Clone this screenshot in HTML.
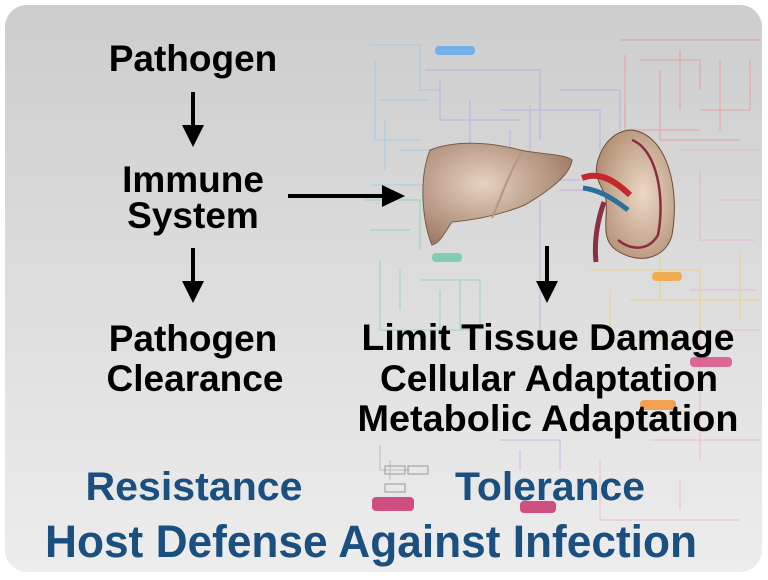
<!DOCTYPE html>
<html><head><meta charset="utf-8"><style>
html,body{margin:0;padding:0;background:#fff;width:768px;height:580px;overflow:hidden}
svg{display:block}
text{font-family:"Liberation Sans",Arial,sans-serif;font-weight:bold}
</style></head><body>
<svg width="768" height="580" viewBox="0 0 768 580" xmlns="http://www.w3.org/2000/svg">
<defs>
<linearGradient id="bg" x1="0" y1="0" x2="0" y2="1">
<stop offset="0" stop-color="#cdcdcd"/><stop offset="1" stop-color="#ededed"/>
</linearGradient>
<radialGradient id="liv" cx="0.4" cy="0.4" r="0.7">
<stop offset="0" stop-color="#e6d2c0"/><stop offset="1" stop-color="#9a7660"/>
</radialGradient>
<radialGradient id="kid" cx="0.6" cy="0.5" r="0.6">
<stop offset="0" stop-color="#ecd8c6"/><stop offset="1" stop-color="#b49276"/>
</radialGradient>
</defs>
<rect x="5" y="5" width="757" height="567" rx="22" fill="url(#bg)"/>
<g fill="none" stroke-width="1.3" opacity="0.55">
<g stroke="#8fc6f0">
<path d="M370 45 H420 V90 H440 M375 60 V140 H420 M380 100 H430 M385 120 V170 M400 150 H440 V175 M372 185 H430"/>
</g>
<g stroke="#a8a2ee">
<path d="M425 70 H540 V140 M440 80 V120 H520 M470 100 V160 H560 M500 110 H600 V150 M510 130 V200 M530 105 V180 H580 M560 90 H620 V130"/>
</g>
<g stroke="#f08a8a">
<path d="M620 40 H760 M625 55 V130 H700 M640 60 H700 V90 M660 70 V140 H740 M680 50 V110 M700 110 H750 V60 M720 60 V130"/>
</g>
<g stroke="#f0a8c8">
<path d="M680 150 H760 M700 170 V240 H755 M720 200 H760 M690 290 H755 M700 310 V460 M720 330 H760 M650 440 H760 M600 460 V520 H740 M680 480 V510"/>
</g>
<g stroke="#78d2b0">
<path d="M365 200 H420 V250 M370 230 H410 M380 260 V330 H470 M400 270 V310 M420 280 H480 V330 M440 290 V340 M460 280 V330"/>
</g>
<g stroke="#f5cc66">
<path d="M590 270 H700 V330 M610 290 V340 H690 M630 300 H760 M660 250 V300 M740 250 V320"/>
</g>
<g stroke="#c09be0">
<path d="M540 200 V330 M560 190 H600 M500 440 H560 V470 M520 450 V470"/>
</g>
<g stroke="#aaa">
<path d="M380 445 V470 H410 M390 460 V480"/>
</g>
</g>
<rect x="435" y="46" width="40" height="9" rx="4" fill="#5aa9ec" opacity="0.8"/>
<rect x="432" y="253" width="30" height="9" rx="4" fill="#6bc8a8" opacity="0.8"/>
<rect x="652" y="272" width="30" height="9" rx="4" fill="#f5a030" opacity="0.8"/>
<rect x="690" y="357" width="42" height="10" rx="4" fill="#d94a80" opacity="0.8"/>
<rect x="640" y="400" width="36" height="10" rx="4" fill="#f59030" opacity="0.8"/>
<rect x="372" y="497" width="42" height="14" rx="4" fill="#c8336c" opacity="0.85"/>
<rect x="520" y="501" width="36" height="12" rx="4" fill="#c8336c" opacity="0.85"/>
<rect x="385" y="466" width="20" height="8" fill="none" stroke="#999"/>
<rect x="408" y="466" width="20" height="8" fill="none" stroke="#999"/>
<rect x="385" y="484" width="20" height="8" fill="none" stroke="#999"/>
<!-- liver -->
<path d="M430 150 C455 140 490 142 520 150 C545 155 565 154 572 160 C570 175 550 190 525 205 C500 215 475 220 452 222 C445 232 440 243 432 245 C423 225 418 180 430 150 Z" fill="url(#liv)" stroke="#7a5a48" stroke-width="1"/>
<path d="M522 152 C508 175 500 200 492 218" stroke="#b5967e" fill="none" stroke-width="2"/>
<!-- kidney -->
<path d="M632 130 C668 135 680 190 672 235 C666 258 640 266 616 250 C600 238 608 220 606 200 C604 186 592 180 598 160 C604 140 618 130 632 130 Z" fill="url(#kid)" stroke="#6d4a3a" stroke-width="1"/>
<path d="M632 140 C658 150 665 200 658 235 C648 252 630 250 618 240" fill="none" stroke="#8a2d40" stroke-width="2.5"/>
<path d="M582 178 C598 172 612 178 630 195" stroke="#c2282c" stroke-width="6" fill="none"/>
<path d="M583 188 C598 190 610 196 628 210" stroke="#2d6f9c" stroke-width="5" fill="none"/>
<path d="M604 202 C597 222 594 242 596 262" stroke="#8a3045" stroke-width="5" fill="none"/>
<g fill="#000" font-size="37" text-anchor="middle">
<text x="193" y="71">Pathogen</text>
<text x="193" y="192">Immune</text>
<text x="193" y="228">System</text>
<text x="193" y="351">Pathogen</text>
<text x="195" y="391">Clearance</text>
</g>
<g fill="#000" font-size="37" text-anchor="middle" textLength="">
<text x="548" y="350" textLength="373" lengthAdjust="spacingAndGlyphs">Limit Tissue Damage</text>
<text x="549" y="391" textLength="338" lengthAdjust="spacingAndGlyphs">Cellular Adaptation</text>
<text x="548" y="431" textLength="381" lengthAdjust="spacingAndGlyphs">Metabolic Adaptation</text>
</g>
<g stroke="#000" stroke-width="4">
<line x1="193" y1="92" x2="193" y2="128"/>
<line x1="193" y1="248" x2="193" y2="284"/>
<line x1="547" y1="246" x2="547" y2="284"/>
<line x1="288" y1="196" x2="384" y2="196"/>
</g>
<g fill="#000">
<polygon points="182,125 204,125 193,147"/>
<polygon points="182,281 204,281 193,303"/>
<polygon points="536,281 558,281 547,303"/>
<polygon points="382,185 382,207 405,196"/>
</g>
<g fill="#1b4f7f" text-anchor="middle">
<text x="194" y="500" font-size="40" textLength="217" lengthAdjust="spacingAndGlyphs">Resistance</text>
<text x="550" y="500" font-size="40" textLength="190" lengthAdjust="spacingAndGlyphs">Tolerance</text>
<text x="371" y="557" font-size="45" textLength="652" lengthAdjust="spacingAndGlyphs">Host Defense Against Infection</text>
</g>
</svg>
</body></html>
